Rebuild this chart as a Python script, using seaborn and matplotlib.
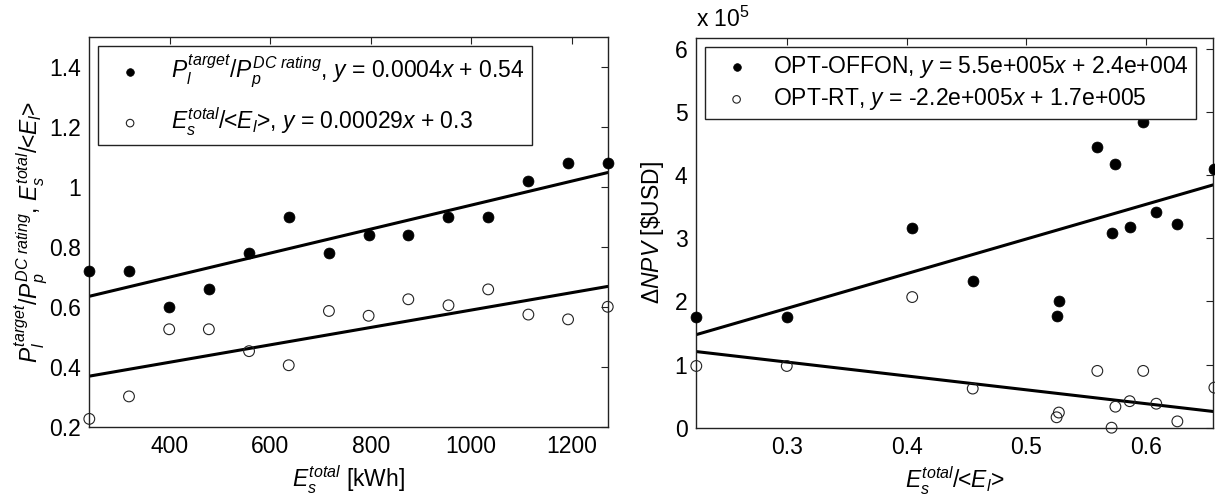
import numpy as np
import pandas as pd
import matplotlib
matplotlib.use("Agg")
import matplotlib.pyplot as plt
from matplotlib.ticker import FuncFormatter, FixedLocator
import seaborn as sns

# ---------------- data ----------------
# Left panel: x = E_s^total [kWh]
left_x = [240, 319, 399, 478, 558, 637, 717, 796, 875, 955, 1034, 1114, 1193, 1272]
left_filled = [0.72, 0.72, 0.60, 0.66, 0.78, 0.90, 0.78, 0.84, 0.84, 0.90, 0.90, 1.02, 1.08, 1.08]
left_open = [0.227, 0.302, 0.526, 0.526, 0.453, 0.406, 0.587, 0.571, 0.626, 0.606, 0.659, 0.575, 0.559, 0.601]
left_fit_filled = (0.0004, 0.54)
left_fit_open = (0.00029, 0.3)

# Right panel: x = E_s^total/<E_l>, y = dNPV [USD]
right_x = [0.2245, 0.300, 0.4047, 0.4552, 0.5252, 0.5271, 0.5592, 0.5711, 0.5743, 0.5862, 0.5975, 0.6084, 0.6260, 0.6569]
right_offon = [1.755e5, 1.755e5, 3.16e5, 2.33e5, 1.77e5, 2.00e5, 4.44e5, 3.09e5, 4.18e5, 3.18e5, 4.84e5, 3.415e5, 3.22e5, 4.10e5]
right_rt = [0.978e5, 0.978e5, 2.07e5, 0.62e5, 0.165e5, 0.24e5, 0.90e5, 0.0, 0.333e5, 0.42e5, 0.90e5, 0.38e5, 0.10e5, 0.635e5]
right_fit_offon = (5.5e5, 2.4e4)
right_fit_rt = (-2.2e5, 1.7e5)

left_xticks = [400, 600, 800, 1000, 1200]
left_yticks = [0.2, 0.4, 0.6, 0.8, 1.0, 1.2, 1.4]
right_xticks = [0.3, 0.4, 0.5, 0.6]
right_yticks = [0, 1e5, 2e5, 3e5, 4e5, 5e5, 6e5]

left_labels = [r"$P_l^{target}$/$P_p^{DC\ rating}$, $y$ = 0.0004$x$ + 0.54",
               r"$E_s^{total}$/<$E_l$>, $y$ = 0.00029$x$ + 0.3"]
right_labels = [r"OPT-OFFON, $y$ = 5.5e+005$x$ + 2.4e+004",
                r"OPT-RT, $y$ = -2.2e+005$x$ + 1.7e+005"]

# ---------------- style ----------------
sns.set_theme(style="white")
plt.rcParams["font.family"] = ["Liberation Sans", "DejaVu Sans"]
plt.rcParams["mathtext.fontset"] = "custom"
plt.rcParams["mathtext.rm"] = "Liberation Sans"
plt.rcParams["mathtext.it"] = "Liberation Sans:italic"
plt.rcParams["mathtext.bf"] = "Liberation Sans:bold"
plt.rcParams["text.color"] = "black"
plt.rcParams["axes.labelcolor"] = "black"
plt.rcParams["xtick.color"] = "black"
plt.rcParams["ytick.color"] = "black"

FS = 16.5
fig = plt.figure(figsize=(12.15, 4.99), dpi=100)
axL = fig.add_axes([0.0735, 0.1443, 0.4267, 0.781])
axR = fig.add_axes([0.5726, 0.1429, 0.4260, 0.7816])


def style_axis(ax):
    ax.tick_params(direction="in", top=True, right=True, length=5, width=0.8,
                   labelsize=FS, colors="#222222", labelcolor="black", pad=6)
    for s in ax.spines.values():
        s.set_visible(True)
        s.set_color("#222222")
        s.set_linewidth(1.0)


# ---------------- left panel ----------------
dfL = pd.DataFrame({"x": left_x, "filled": left_filled, "open": left_open})
xlimL = (min(left_x), max(left_x))
sns.scatterplot(data=dfL, x="x", y="filled", ax=axL, s=62, color="black",
                edgecolor="black", linewidth=0.5, label=left_labels[0], clip_on=False, zorder=3)
sns.scatterplot(data=dfL, x="x", y="open", ax=axL, s=60, facecolor="none",
                edgecolor="#222222", linewidth=0.8, label=left_labels[1], clip_on=False, zorder=3)
fx = np.array(xlimL, dtype=float)
sns.lineplot(x=fx, y=left_fit_filled[0] * fx + left_fit_filled[1], ax=axL,
             color="black", linewidth=2.2, legend=False)
sns.lineplot(x=fx, y=left_fit_open[0] * fx + left_fit_open[1], ax=axL,
             color="black", linewidth=2.2, legend=False)
axL.set_xlim(*xlimL)
axL.set_ylim(0.2, 1.5)
axL.xaxis.set_major_locator(FixedLocator(left_xticks))
axL.yaxis.set_major_locator(FixedLocator(left_yticks))
axL.yaxis.set_major_formatter(FuncFormatter(lambda v, p: f"{v:g}"))
style_axis(axL)
axL.set_xlabel(r"$E_s^{total}$ [kWh]", fontsize=FS, labelpad=4)
axL.set_ylabel(r"$P_l^{target}$/$P_p^{DC\ rating}$, $E_s^{total}$/<$E_l$>", fontsize=FS, labelpad=0)
legL = axL.legend(loc="upper left", bbox_to_anchor=(0.0168, 0.978), borderaxespad=0,
                  fontsize=FS, frameon=True, fancybox=False, edgecolor="#222222", framealpha=1,
                  markerscale=0.7, handletextpad=0.7, handlelength=2.2, borderpad=0.3,
                  labelspacing=0.7)
legL.get_frame().set_linewidth(1.0)

# ---------------- right panel ----------------
dfR = pd.DataFrame({"x": right_x, "offon": right_offon, "rt": right_rt})
xlimR = (0.2240, 0.6560)
sns.scatterplot(data=dfR, x="x", y="offon", ax=axR, s=62, color="black",
                edgecolor="black", linewidth=0.5, label=right_labels[0], clip_on=False, zorder=3)
sns.scatterplot(data=dfR, x="x", y="rt", ax=axR, s=60, facecolor="none",
                edgecolor="#222222", linewidth=0.8, label=right_labels[1], clip_on=False, zorder=3)
gx = np.array(xlimR, dtype=float)
sns.lineplot(x=gx, y=right_fit_offon[0] * gx + right_fit_offon[1], ax=axR,
             color="black", linewidth=2.2, legend=False)
sns.lineplot(x=gx, y=right_fit_rt[0] * gx + right_fit_rt[1], ax=axR,
             color="black", linewidth=2.2, legend=False)
axR.set_xlim(*xlimR)
axR.set_ylim(0, 6.18e5)
axR.xaxis.set_major_locator(FixedLocator(right_xticks))
axR.yaxis.set_major_locator(FixedLocator(right_yticks))
axR.yaxis.set_major_formatter(FuncFormatter(lambda v, p: f"{v / 1e5:g}"))
axR.xaxis.set_major_formatter(FuncFormatter(lambda v, p: f"{v:g}"))
style_axis(axR)
axR.text(0.0, 1.015, r"x 10$^5$", transform=axR.transAxes, ha="left", va="bottom", fontsize=FS)
axR.set_xlabel(r"$E_s^{total}$/<$E_l$>", fontsize=FS, labelpad=4)
axR.set_ylabel(r"$\mathit{\Delta NPV}$ [\$USD]", fontsize=FS, labelpad=6)
legR = axR.legend(loc="upper left", bbox_to_anchor=(0.017, 0.977), borderaxespad=0,
                  fontsize=FS, frameon=True, fancybox=False, edgecolor="#222222", framealpha=1,
                  markerscale=0.7, handletextpad=0.5, handlelength=2.2, borderpad=0.3,
                  labelspacing=0.3)
legR.get_frame().set_linewidth(1.0)

fig.savefig("out.png", dpi=100)
